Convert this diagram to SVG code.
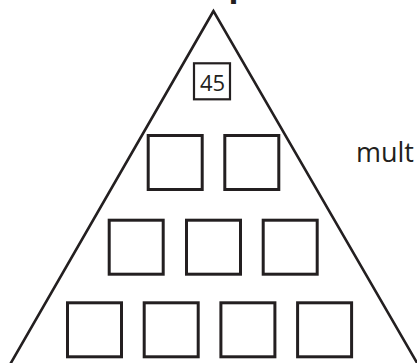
<svg xmlns="http://www.w3.org/2000/svg" width="417" height="363" viewBox="0 0 417 363">
<style>
.box{fill:#fff;stroke:#231f20;stroke-width:3}
.tri{fill:none;stroke:#231f20;stroke-width:2.6}
.t{font-family:"Open Sans","Noto Sans",sans-serif;fill:#231f20}
</style>
<rect width="417" height="363" fill="#fff"/>
<text class="t" x="228.6" y="-3.6" font-size="36" font-weight="bold" style="font-family:'Liberation Sans',sans-serif">p</text>
<g id="pyramid">
<polygon class="tri" points="213.5,11 8,368 420,368"/>
</g>
<g id="connectors"></g>
<g id="top">
<rect x="194" y="63.3" width="36" height="36" fill="#fff" stroke="#231f20" stroke-width="2.2"/>
<text class="t" x="212.5" y="91" font-size="22" text-anchor="middle">45</text>
</g>
<g id="row2">
<rect class="box" x="148.2" y="135.5" width="54" height="54"/>
<rect class="box" x="224.8" y="135.5" width="54" height="54"/>
</g>
<g id="row3">
<rect class="box" x="109.2" y="220.2" width="54" height="54"/>
<rect class="box" x="186.5" y="220.2" width="54" height="54"/>
<rect class="box" x="263.2" y="220.2" width="54" height="54"/>
</g>
<g id="row4">
<rect class="box" x="67.5" y="302.8" width="54" height="54"/>
<rect class="box" x="144.2" y="302.8" width="54" height="54"/>
<rect class="box" x="220.9" y="302.8" width="54" height="54"/>
<rect class="box" x="297.6" y="302.8" width="54" height="54"/>
</g>
<text class="t" x="356" y="161.7" font-size="27">mult</text>
</svg>
